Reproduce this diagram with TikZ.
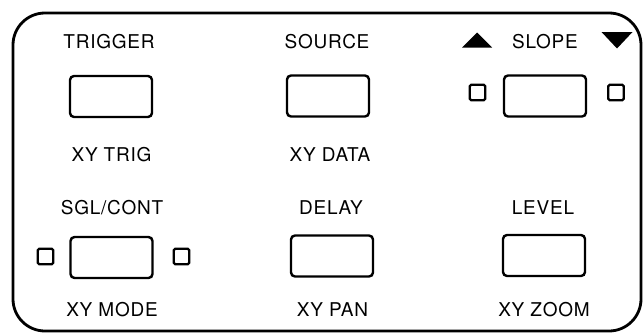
\documentclass[tikz,border=0pt]{standalone}
\usepackage{fontspec}
\newfontfamily\panelfont{TeX Gyre Heros}[LetterSpace=4]
\usetikzlibrary{positioning}

\begin{document}
\begin{tikzpicture}[x=1pt,y=-1pt,font=\panelfont\fontsize{19}{22}\selectfont]
  \tikzset{
    key/.style={draw,line width=2.4pt,rounded corners=4pt,minimum width=82pt,
                minimum height=41pt,inner sep=0pt},
    lamp/.style={draw,line width=2.2pt,rounded corners=1.5pt,minimum size=15.5pt,
                 inner sep=0pt},
    caption/.style={anchor=base,inner sep=0pt},
  }
  \useasboundingbox (0,0) rectangle (644,332);
  % ---- panel outline ----
  \draw[line width=2.8pt,rounded corners=32pt] (13,13) rectangle (641,331);
  % ---- upper row ----
  \node[key] (trig) at (111,96.5) {};
  \node[caption] (trigTop) at (109,48.5) {TRIGGER};
  \node[caption] (trigBot) at (111.5,161) {XY TRIG};
  \node[key] (src) at (328,96) {};
  \node[caption] (srcTop) at (327,48.5) {SOURCE};
  \node[caption] (srcBot) at (330,161) {XY DATA};
  \node[key] (slope) at (545,96) {};
  \node[caption] (slopeTop) at (545,48.5) {SLOPE};
  \node[lamp] (slopeL) at (477.5,92.5) {};
  \node[lamp] (slopeR) at (616,92.5) {};
  \fill (462,47.5) -- (492,47.5) -- (477,32.5) -- cycle;
  \fill (601.5,32) -- (632.5,32) -- (617,48.5) -- cycle;
  % ---- lower row ----
  \node[key] (mode) at (111.5,257.5) {};
  \node[caption] (modeTop) at (112,214) {SGL/CONT};
  \node[caption] (modeBot) at (112,316) {XY MODE};
  \node[lamp] (modeL) at (45.5,256.5) {};
  \node[lamp] (modeR) at (181.5,256.5) {};
  \node[key] (delay) at (332,256) {};
  \node[caption] (delayTop) at (331,214) {DELAY};
  \node[caption] (delayBot) at (332.5,316) {XY PAN};
  \node[key] (level) at (544,255.5) {};
  \node[caption] (levelTop) at (543,214) {LEVEL};
  \node[caption] (levelBot) at (544,316) {XY ZOOM};
\end{tikzpicture}
\end{document}
